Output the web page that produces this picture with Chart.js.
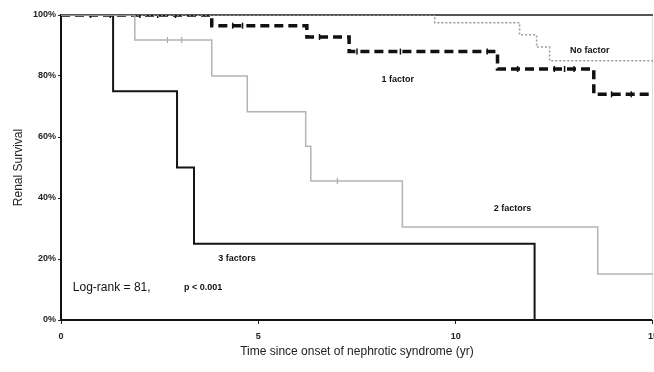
<!DOCTYPE html>
<html>
<head>
<meta charset="utf-8">
<script src="https://cdn.jsdelivr.net/npm/chart.js@4/dist/chart.umd.min.js"></script>
<style>
  html, body { margin: 0; padding: 0; background: #fff; overflow: hidden; width: 654px; height: 372px; }
  canvas { display: block; }
</style>
</head>
<body>
<canvas id="km" width="665" height="372"></canvas>
<script>
// Kaplan-Meier steps (years, % renal survival)
const years3 = [0, 1.32, 2.94, 3.37, 12.0]
const surv3 = [100, 75, 50, 25, 0]

const years2 = [0, 1.87, 3.82, 4.72, 6.2, 6.33, 8.65, 13.6, 15]
const surv2 = [100, 91.8, 80, 68.3, 57, 45.6, 30.5, 15.1, 15.1]

const years1 = [0, 3.82, 6.23, 7.3, 11.06, 13.5, 15]
const surv1 = [100, 96.5, 92.8, 88, 82.3, 74, 74]

const years0 = [0, 9.47, 11.62, 12.05, 12.38, 15]
const surv0 = [100, 97.5, 93.5, 89.5, 85, 85]

// censored observations
const cens1X = [0.75, 1.25, 2.0, 2.45, 2.9, 4.35, 4.6, 6.55, 7.5, 8.6, 10.8, 11.57, 12.5, 12.76, 13.0, 13.95, 14.45]
const cens1Y = [100, 100, 100, 100, 100, 96.5, 96.5, 92.8, 88, 88, 88, 82.3, 82.3, 82.3, 82.3, 74, 74]
const cens2X = [2.7, 3.06, 7.0]
const cens2Y = [91.8, 91.8, 45.6]

const xTicks = [0, 5, 10, 15]
const yTicks = [0, 20, 40, 60, 80, 100]

const toPts = (xs, ys) => xs.map((x, i) => ({ x: x, y: ys[i] }))

const notes = [
    { text: 'No factor', x: 13.4, y: 88.5, font: 'bold 9px "Liberation Sans"', align: 'center' },
    { text: '1 factor', x: 8.53, y: 78.7, font: 'bold 9px "Liberation Sans"', align: 'center' },
    { text: '2 factors', x: 11.44, y: 36.4, font: 'bold 9px "Liberation Sans"', align: 'center' },
    { text: '3 factors', x: 4.46, y: 20, font: 'bold 9px "Liberation Sans"', align: 'center' },
    { text: 'Log-rank = 81,', x: 0.3, y: 10.5, font: '12px "Liberation Sans"', align: 'left' },
    { text: 'p < 0.001', x: 3.6, y: 10.5, font: 'bold 9px "Liberation Sans"', align: 'center' },
]

const framePlugin = {
    id: 'frame',
    beforeDatasetsDraw(chart) {
        const { ctx, chartArea } = chart
        ctx.save()
        ctx.strokeStyle = '#ddd'
        ctx.lineWidth = 1
        ctx.beginPath()
        ctx.moveTo(chartArea.right - 0.5, chartArea.top)
        ctx.lineTo(chartArea.right - 0.5, chartArea.bottom)
        ctx.stroke()
        ctx.strokeStyle = '#555'
        ctx.lineWidth = 2
        ctx.beginPath()
        ctx.moveTo(chartArea.left, chartArea.top)
        ctx.lineTo(chartArea.right, chartArea.top)
        ctx.stroke()
        ctx.restore()
    },
    afterDatasetsDraw(chart) {
        const { ctx, scales } = chart
        ctx.save()
        ctx.fillStyle = '#111'
        ctx.textBaseline = 'middle'
        notes.forEach((n) => {
            ctx.font = n.font
            ctx.textAlign = n.align
            ctx.fillText(n.text, scales.x.getPixelForValue(n.x), scales.y.getPixelForValue(n.y))
        })
        ctx.restore()
    }
}

new Chart(document.getElementById('km'), {
    type: 'line',
    data: {
        datasets: [
            {
                label: 'No factor',
                data: toPts(years0, surv0),
                stepped: true,
                borderColor: '#9a9a9a',
                borderWidth: 1.5,
                borderDash: [2, 2],
                pointRadius: 0,
            },
            {
                label: '2 factors',
                data: toPts(years2, surv2),
                stepped: true,
                borderColor: '#b4b4b4',
                borderWidth: 1.5,
                pointRadius: 0,
            },
            {
                label: '3 factors',
                data: toPts(years3, surv3),
                stepped: true,
                borderColor: '#151515',
                borderWidth: 2,
                pointRadius: 0,
            },
            {
                label: '1 factor',
                data: toPts(years1, surv1),
                stepped: true,
                borderColor: '#111',
                borderWidth: 3.5,
                borderDash: [9, 5],
                pointRadius: 0,
            },
            {
                label: 'censored 2',
                data: toPts(cens2X, cens2Y),
                showLine: false,
                pointStyle: 'line',
                rotation: 90,
                pointRadius: 3,
                borderColor: '#999',
                borderWidth: 1,
            },
            {
                label: 'censored 1',
                data: toPts(cens1X, cens1Y),
                showLine: false,
                pointStyle: 'line',
                rotation: 90,
                pointRadius: 3,
                borderColor: '#111',
                borderWidth: 1.5,
            },
        ]
    },
    options: {
        responsive: false,
        animation: false,
        devicePixelRatio: 1,
        layout: { padding: { top: 15, right: 0, left: 0, bottom: 0 } },
        plugins: { legend: { display: false }, tooltip: { enabled: false } },
        scales: {
            x: {
                type: 'linear',
                min: 0,
                max: 15,
                afterBuildTicks: (s) => { s.ticks = xTicks.map((v) => ({ value: v })) },
                afterFit: (s) => { s.height = 52 },
                grid: { display: true, drawOnChartArea: false, tickLength: 4, color: '#222' },
                border: { display: true, color: '#111', width: 2 },
                ticks: { padding: 7, color: '#222', font: { family: 'Liberation Sans', size: 9, weight: 'bold' } },
                title: {
                    display: true,
                    text: 'Time since onset of nephrotic syndrome (yr)',
                    color: '#222',
                    font: { family: 'Liberation Sans', size: 12 },
                    padding: { top: 0, bottom: 13 },
                },
            },
            y: {
                min: 0,
                max: 100,
                afterBuildTicks: (s) => { s.ticks = yTicks.map((v) => ({ value: v })) },
                afterFit: (s) => { s.width = 61 },
                grid: { display: true, drawOnChartArea: false, tickLength: 3, color: '#222' },
                border: { display: true, color: '#111', width: 2 },
                ticks: { padding: 2, color: '#222', font: { family: 'Liberation Sans', size: 9, weight: 'bold' }, callback: (v) => v + '%' },
                title: {
                    display: true,
                    text: 'Renal Survival',
                    color: '#222',
                    font: { family: 'Liberation Sans', size: 12 },
                    padding: { top: 11, bottom: 0 },
                },
            },
        },
    },
    plugins: [framePlugin],
})
</script>
</body>
</html>
